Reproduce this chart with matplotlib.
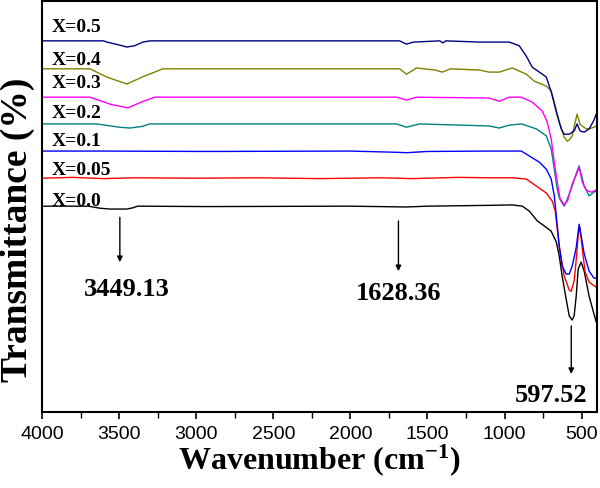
import matplotlib
matplotlib.use("Agg")
import matplotlib.pyplot as plt
from matplotlib.ticker import MultipleLocator

plt.rcParams['mathtext.fontset'] = 'custom'
plt.rcParams['mathtext.rm'] = 'Liberation Serif:bold'
plt.rcParams['mathtext.bf'] = 'Liberation Serif:bold'
plt.rcParams['mathtext.it'] = 'Liberation Serif:bold'

# ---- data (wavenumber, transmittance) ----
w_x00 = [4000, 3700, 3624, 3560, 3450, 3411, 3380, 2931, 2000, 1636, 1500, 1100, 950, 885,
         839, 787, 742, 697, 664, 645, 626, 600, 580, 561, 548, 535, 522, 503, 483, 451, 405]
t_x00 = [50.1, 50.1, 49.6, 49.4, 49.4, 49.7, 50.1, 50.0, 50.1, 49.9, 50.1, 50.3, 50.4, 50.1,
         48.9, 46.5, 45.3, 44.0, 41.4, 38.0, 33.1, 27.5, 23.4, 22.4, 23.5, 28.2, 34.8, 36.5, 34.3, 28.2, 21.9]

w_x005 = [4000, 3800, 3600, 3400, 3000, 2600, 2200, 1800, 1600, 1300, 1100, 950, 859,
          794, 729, 690, 671, 645, 613, 580, 567, 548, 535, 522, 512, 503, 490, 477, 451, 405]
t_x005 = [56.9, 57.1, 56.8, 57.0, 56.9, 57.0, 56.8, 57.0, 56.8, 57.1, 57.0, 57.0, 56.7,
          55.0, 53.3, 51.3, 49.0, 40.4, 33.1, 29.7, 29.4, 32.0, 37.0, 43.0, 45.0, 42.5, 38.0, 34.1, 31.6, 30.4]

w_x01 = [4000, 3600, 2931, 2000, 1700, 1636, 1500, 1100, 891, 839, 774, 729, 697, 677,
         664, 645, 626, 600, 580, 561, 535, 516, 496, 483, 451, 420, 405]
t_x01 = [63.5, 63.5, 63.4, 63.5, 63.2, 63.1, 63.4, 63.5, 63.5, 62.3, 60.8, 59.1, 56.7, 52.6,
         47.7, 40.4, 35.5, 33.6, 33.6, 35.5, 40.0, 45.7, 41.4, 38.5, 34.3, 32.6, 32.6]

w_x02 = [4000, 3644, 3500, 3430, 3350, 3300, 1700, 1636, 1550, 1100, 1034, 969, 891,
         794, 729, 697, 677, 658, 645, 613, 593, 561, 535, 516, 500, 483, 451, 420, 405]
t_x02 = [70.1, 70.1, 69.3, 69.1, 69.5, 70.1, 70.1, 69.3, 70.1, 69.6, 69.1, 69.8, 70.1,
         68.9, 67.2, 64.0, 59.1, 54.3, 52.1, 50.1, 51.8, 55.0, 58.0, 59.9, 57.5, 55.0, 52.6, 53.5, 53.8]

w_x03 = [4000, 3689, 3550, 3443, 3350, 3268, 1700, 1636, 1570, 1100, 1034, 969, 891,
         820, 755, 723, 697, 677, 658, 640, 613, 590, 561, 535, 516, 496, 470, 438, 420, 405]
t_x03 = [76.6, 76.6, 74.8, 74.0, 75.5, 76.6, 76.6, 75.9, 76.6, 76.4, 75.6, 76.6, 76.6,
         75.4, 73.2, 70.6, 66.4, 60.8, 56.0, 52.0, 50.4, 51.5, 55.5, 57.7, 59.6, 56.0, 54.0, 53.5, 53.8, 54.0]

w_x04 = [4000, 3689, 3580, 3449, 3350, 3216, 1680, 1636, 1600, 1571, 1450, 1403, 1350, 1163,
         1100, 1034, 949, 859, 807, 729, 697, 677, 645, 613, 593, 580, 561, 545, 529, 510, 496, 470, 451, 420, 405]
t_x04 = [83.5, 83.5, 81.5, 79.8, 81.5, 83.5, 83.5, 82.2, 83.0, 83.7, 83.2, 82.7, 83.5, 83.2,
         82.7, 82.7, 83.7, 82.2, 80.5, 79.3, 78.1, 75.4, 70.6, 66.9, 65.9, 66.2, 67.2, 70.0, 72.5, 70.0, 69.6, 68.9, 68.9, 69.3, 69.6]

w_x05 = [4000, 3600, 3579, 3500, 3449, 3400, 3346, 3300, 1680, 1636, 1590, 1420, 1400, 1380, 1163,
         1034, 969, 904, 859, 820, 774, 729, 697, 664, 632, 613, 580, 548, 529, 510, 483, 451, 420, 405]
t_x05 = [90.3, 90.3, 90.0, 89.3, 88.8, 89.1, 90.0, 90.3, 90.3, 89.5, 90.0, 90.3, 89.8, 90.3, 90.0,
         90.0, 90.0, 89.1, 86.6, 83.9, 82.7, 81.5, 77.9, 73.0, 68.9, 67.6, 67.6, 68.4, 70.1, 68.4, 68.1, 68.9, 71.0, 72.5]

series = [
    ("X=0.0", w_x00, t_x00, "#000000"),
    ("X=0.05", w_x005, t_x005, "#FF0000"),
    ("X=0.1", w_x01, t_x01, "#0000FF"),
    ("X=0.2", w_x02, t_x02, "#008080"),
    ("X=0.3", w_x03, t_x03, "#FF00FF"),
    ("X=0.4", w_x04, t_x04, "#808000"),
    ("X=0.5", w_x05, t_x05, "#000080"),
]

# label positions (wavenumber, transmittance)
label_w = [3935, 3935, 3935, 3935, 3935, 3935, 3935]
label_t = [51.6, 59.0, 66.0, 72.9, 80.1, 85.7, 93.9]

peak_labels = ["3449.13", "1628.36", "597.52"]
peak_text_w = [3450, 1688, 697]
peak_text_t = [30.2, 29.0, 4.4]
arrow_w = [3495, 1688, 567]
arrow_t0 = [47.4, 46.5, 21.0]
arrow_t1 = [36.5, 34.3, 9.3]

xticks = [4000, 3500, 3000, 2500, 2000, 1500, 1000, 500]

fig = plt.figure(figsize=(6.0, 4.89), dpi=100)
ax = fig.add_axes([0.07, 0.155, 0.925, 0.841])

for (name, w, t, c), lw_, lt_ in zip(series, label_w, label_t):
    ax.plot(w, t, color=c, lw=1.0)
    ax.text(lw_, lt_, name, fontsize=14, fontweight='bold', family='Liberation Serif',
            ha='left', va='center')

for lab, tw, tt, aw, a0, a1 in zip(peak_labels, peak_text_w, peak_text_t, arrow_w, arrow_t0, arrow_t1):
    ax.annotate("", xy=(aw, a1), xytext=(aw, a0),
                arrowprops=dict(arrowstyle='-|>', color='black', lw=1.0,
                                mutation_scale=8, shrinkA=0, shrinkB=0))
    ax.text(tw, tt, lab, fontsize=19, fontweight='bold', family='Liberation Serif',
            ha='center', va='center')

ax.set_xlim(4000, 400)
ax.set_ylim(0, 100)
ax.set_xticks(xticks)
ax.set_xticklabels([str(v) for v in xticks], family='Liberation Sans', fontsize=14)
ax.xaxis.set_minor_locator(MultipleLocator(250))
ax.tick_params(axis='x', which='major', direction='out', length=5, width=1.2, pad=4)
ax.tick_params(axis='x', which='minor', direction='out', length=4, width=1.0)
ax.set_yticks([])
for s in ax.spines.values():
    s.set_linewidth(1.5)

ax.set_xlabel(r"Wavenumber (cm$^{-1}$)", fontsize=23, fontweight='bold',
              family='Liberation Serif', labelpad=0)
ax.set_ylabel("Transmittance (%)", fontsize=27, fontweight='bold',
              family='Liberation Serif')
ax.yaxis.set_label_coords(-0.012, 0.445)

fig.savefig("out.png", dpi=100)
